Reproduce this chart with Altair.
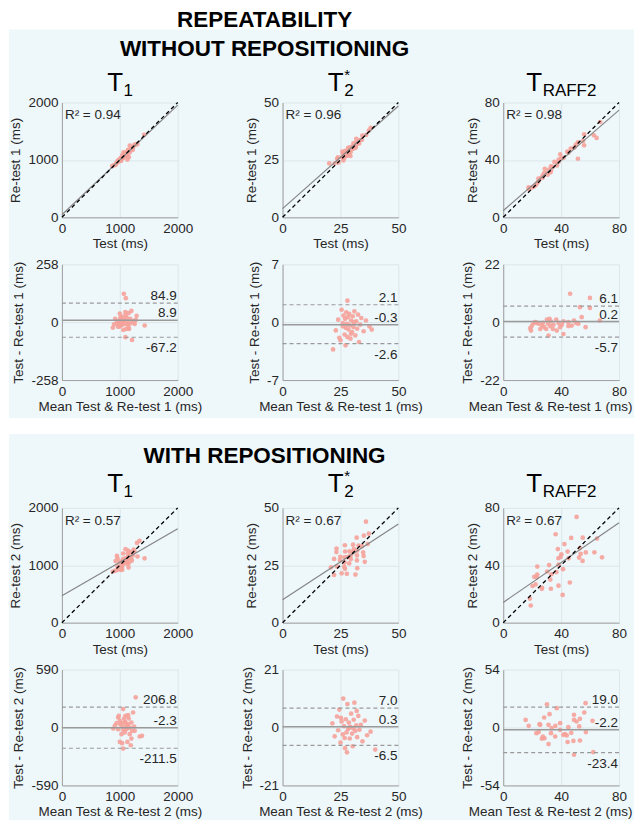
import altair as alt
import pandas as pd

FONT = "Liberation Sans, Arial, sans-serif"
BG = "#eef7fa"
POINT = "#f5a29a"
INK = "#262626"

PW, PH_SC, PH_BA = 116, 115, 116

# ---------------- shared per-parameter settings (T1, T2*, TRAFF2) ----------------
AXIS_MAX = [2000, 50, 80]
AXIS_MID = [1000, 25, 40]
SUBS = ["1", "2", "RAFF2"]
STAR = [False, True, False]

# ---------------- WITHOUT REPOSITIONING (Test vs Re-test 1) ----------------
# Bland-Altman coordinates (mean, difference)
A1_MEAN = [1069, 1103, 1095, 1000, 920, 1150, 1200, 1230, 1290, 1429, 1257, 1130, 1070, 1000,
           900, 880, 970, 1030, 1110, 1060, 1140, 1190, 1275, 1097, 1211, 1010, 1040, 1160,
           960, 1050, 1120, 1080, 990, 1180, 1020, 940, 1100, 1060, 1150, 1005]
A1_DIFF = [126, 107, 45, 38, 15, 40, 50, 5, 28, -15, -8, 0, 10, -5, -10, -25, -20, -15, -30, -2,
           -10, -5, 10, -67, -79, 20, 25, -30, 5, 12, 18, -8, -20, 15, -12, -5, 30, -35, -22, 8]
B1_MEAN = [21.8, 23, 24, 25, 25.5, 26, 26.3, 26.8, 27, 27.2, 27.5, 27.8, 28, 28.2, 28.5, 28.8,
           29, 29.3, 29.6, 30, 30.3, 30.6, 31, 31.4, 31.8, 32.2, 32.6, 33, 33.5, 34, 35, 36,
           37.5, 38.5, 26, 28, 29.5, 30.8, 27.3, 24.5]
B1_DIFF = [-3.3, -1.0, 0.3, -2.2, 1.5, -0.5, 0.8, -1.5, 0.4, -2.8, 1.2, -0.2, -1.8, 0.6, -0.9,
           1.0, -0.4, -2.0, 0.2, -1.2, 0.7, -0.6, 1.3, -1.6, 0.1, -0.8, 0.9, -2.4, -0.3, 0.5,
           -1.1, 0.2, -0.5, -0.9, -0.1, 2.6, -1.4, 0.0, -0.7, -1.9]
C1_MEAN = [46.2, 59.9, 59.9, 53.0, 66.7, 54.2, 48.9, 51.9, 56.9, 45.0, 41.6, 38.2, 36.6, 34.7,
           32.9, 32.0, 30.2, 30.9, 29.7, 28.3, 26.7, 25.6, 24.5, 22.2, 21.0, 19.9, 18.7, 19.2,
           31.3, 41.6, 37.0, 39.3, 45.0, 47.3, 23.3, 34.3, 27.4, 32.5, 40.5, 50.3]
C1_DIFF = [10.8, 9.2, 5.4, 5.7, 0.6, 1.9, 0.6, -0.6, -1.9, 0.0, 0.3, -0.3, 1.0, -1.0, 0.3, 1.3,
           1.0, -0.6, -2.6, -1.9, -1.3, -2.6, -0.6, 0.0, -0.3, -1.3, -2.3, -3.2, -5.1, -4.5,
           -3.2, -1.9, -1.5, -1.3, -0.3, -2.6, -0.3, -1.5, -1.0, -0.3]
BA_MAX_1 = [258, 7, 22]
BIAS_1 = [8.9, -0.3, 0.2]
UPPER_1 = [84.9, 2.1, 6.1]
LOWER_1 = [-67.2, -2.6, -5.7]
R2_1 = ["0.94", "0.96", "0.98"]
REG_START_1 = [45, 3.8, 4.6]
REG_END_1 = [1955, 48.5, 74.7]

# ---------------- WITH REPOSITIONING (Test vs Re-test 2) ----------------
A2_MEAN = [1274, 1057, 1143, 1229, 971, 1000, 943, 1029, 1086, 1143, 1200, 914, 886, 1057, 1114,
           1171, 1246, 1029, 1086, 1171, 1257, 1200, 1343, 1383, 1131, 1189, 1000, 1040, 1057,
           1097, 983, 1074, 1154, 1097, 1211, 1120, 971, 1060, 1130, 1010]
A2_DIFF = [307, 188, 126, 153, 102, 68, 44, 44, 58, 34, 51, 17, -10, 10, -17, 0, 10, -68, -51,
           -68, -34, -113, -92, -85, -147, -181, -147, -160, -215, 51, 119, 92, 92, 119, -34,
           24, -17, -25, -5, 30]
B2_MEAN = [21.5, 22.5, 23.5, 24, 24.5, 25, 25.5, 26, 26.2, 26.5, 27, 27.3, 27.6, 28, 28.3, 28.6,
           29, 29.3, 29.6, 30, 30.3, 30.7, 31, 31.4, 31.8, 32.2, 32.7, 33.2, 33.8, 34.5, 35.5,
           36.5, 38, 40, 26.8, 28.8, 30.5, 25.2, 27.8, 32]
B2_DIFF = [1.5, -3.2, 4.0, -1.0, 6.5, -5.5, 2.2, -2.5, 10.5, 0.5, -7.5, 3.0, -1.8, 8.5, -0.5,
           1.8, -4.0, 0.2, 5.0, -2.2, -6.8, 2.8, 9.0, -1.2, 0.8, -3.5, 4.2, -0.8, 1.0, -5.0,
           2.5, -2.8, -1.5, -8.0, -3.8, 0.0, -0.3, 3.5, -9.0, 6.0]
C2_MEAN = [30.2, 37.0, 32.0, 28.3, 15.5, 17.6, 25.1, 31.3, 39.3, 48.9, 50.7, 53.0, 48.9, 56.0,
           56.9, 61.7, 57.1, 53.0, 48.5, 44.5, 43.9, 42.7, 45.0, 39.3, 35.9, 33.0, 31.3, 27.4,
           26.7, 28.5, 24.5, 22.9, 25.6, 48.9, 62.2, 33.5, 47.0, 52.5, 36.0, 41.5]
C2_DIFF = [21.7, 18.0, 12.4, 9.3, 7.1, 1.6, 3.1, 2.5, 4.0, 11.8, 5.6, 8.1, 7.1, 14.0, 22.7, 6.2,
           -4.3, -12.1, -12.5, -13.5, -7.4, -6.2, 0.3, -2.2, -8.4, -5.3, -15.5, -8.4, -10.5,
           -10.0, -4.3, -5.3, 2.5, -25.4, -23.0, -0.5, -5.0, 1.0, 1.5, -6.8]
BA_MAX_2 = [590, 21, 54]
BIAS_2 = [-2.3, 0.3, -2.2]
UPPER_2 = [206.8, 7.0, 19.0]
LOWER_2 = [-211.5, -6.5, -23.4]
R2_2 = ["0.57", "0.67", "0.67"]
REG_START_2 = [470, 10.0, 14.1]
REG_END_2 = [1635, 43.0, 69.6]

LABEL_EXPR = "replace(datum.label, '\u2212', '-')"


def axis(values, title, **kw):
    return alt.Axis(values=values, title=title, format="d", labelExpr=LABEL_EXPR, **kw)


def text_layer(t, x, y, size, align="center", weight="normal", color="black", baseline="alphabetic"):
    return alt.Chart(pd.DataFrame({"t": [t]})).mark_text(
        align=align, baseline=baseline, font=FONT, fontSize=size, fontWeight=weight, color=color
    ).encode(x=alt.value(x), y=alt.value(y), text="t:N")


def bg_rect(y0, y1):
    return alt.Chart(pd.DataFrame({"a": [0]})).mark_rect(color=BG).encode(
        x=alt.value(-53), x2=alt.value(573), y=alt.value(y0), y2=alt.value(y1))


def t_title(i, ybase):
    sub = SUBS[i]
    w_t = 0.611 * 26
    w_s = {"1": 0.556, "2": 0.556, "RAFF2": 3.167}[sub] * 17
    xr = PW / 2 + (w_t - w_s) / 2
    layers = [text_layer("T", xr, ybase, 26, "right"),
              text_layer(sub, xr + 0.5, ybase + 5.5, 17, "left")]
    if STAR[i]:
        layers.append(text_layer("*", xr + 0.5, ybase - 11, 15, "left"))
    return layers


def scatter(i, means, diffs, r0, r1, r2, n):
    vmax, vmid = AXIS_MAX[i], AXIS_MID[i]
    ticks = [0, vmid, vmax]
    sc = alt.Scale(domain=[0, vmax], nice=False, zero=False)
    ax_x = axis(ticks, "Test (ms)")
    ax_y = axis(ticks, f"Re-test {n} (ms)")

    def X(f):
        return alt.X(f, type="quantitative", scale=sc, axis=ax_x)

    def Y(f):
        return alt.Y(f, type="quantitative", scale=sc, axis=ax_y)

    pts = alt.Chart(pd.DataFrame({"m": means, "d": diffs})).transform_calculate(
        test="datum.m + datum.d / 2", retest="datum.m - datum.d / 2"
    ).mark_circle(size=22, color=POINT, opacity=0.9).encode(x=X("test"), y=Y("retest"))
    reg = alt.Chart(pd.DataFrame({"x": [0, vmax], "y": [r0, r1]})).mark_line(
        color="#858585", strokeWidth=1.2).encode(x=X("x"), y=Y("y"))
    ident = alt.Chart(pd.DataFrame({"x": [0, vmax], "y": [0, vmax]})).mark_line(
        color="black", strokeWidth=1.3, strokeDash=[4, 3]).encode(x=X("x"), y=Y("y"))
    txt = text_layer(f"R\u00b2 = {r2}", 3, 17, 13.5, "left", color=INK)
    return alt.layer(pts, reg, ident, txt).properties(width=PW, height=PH_SC)


def bland_altman(i, means, diffs, bamax, bias, up, lo, n):
    vmax, vmid = AXIS_MAX[i], AXIS_MID[i]
    sx = alt.Scale(domain=[0, vmax], nice=False, zero=False)
    sy = alt.Scale(domain=[-bamax, bamax], nice=False, zero=False)
    extra = {"titleX": 47} if i == 2 else {}
    ax_x = axis([0, vmid, vmax], f"Mean Test & Re-test {n} (ms)", **extra)
    ax_y = axis([-bamax, 0, bamax], f"Test - Re-test {n} (ms)")

    def X(f):
        return alt.X(f, type="quantitative", scale=sx, axis=ax_x)

    def Y(f):
        return alt.Y(f, type="quantitative", scale=sy, axis=ax_y)

    pts = alt.Chart(pd.DataFrame({"m": means, "d": diffs})).mark_circle(
        size=22, color=POINT, opacity=0.9).encode(x=X("m"), y=Y("d"))
    loa = alt.Chart(pd.DataFrame({"y": [up, lo]})).mark_rule(
        color="#9a9a9a", strokeWidth=1.2, strokeDash=[4, 3]).encode(y=Y("y"))
    mean_line = alt.Chart(pd.DataFrame({"y": [bias]})).mark_rule(
        color="#9a9a9a", strokeWidth=1.5).encode(y=Y("y"))
    above = alt.Chart(pd.DataFrame({"y": [up, bias], "t": [f"{up:.1f}", f"{bias:.1f}"]})).mark_text(
        align="right", baseline="alphabetic", dy=-3, font=FONT, fontSize=13.5, color=INK
    ).encode(x=alt.value(PW - 1), y=Y("y"), text="t:N")
    below = alt.Chart(pd.DataFrame({"y": [lo], "t": [f"{lo:.1f}"]})).mark_text(
        align="right", baseline="top", dy=4, font=FONT, fontSize=13.5, color=INK
    ).encode(x=alt.value(PW - 1), y=Y("y"), text="t:N")
    return alt.layer(pts, mean_line, loa, above, below).properties(width=PW, height=PH_BA)


# ---------------- assemble grid ----------------
cells = []
# header, section 1
cells.append(alt.layer(
    bg_rect(20, 409),
    text_layer("REPEATABILITY", 203, 17, 22.5, weight="bold"),
    text_layer("WITHOUT REPOSITIONING", 203, 46, 22.5, weight="bold"),
    *t_title(0, 81)).properties(width=PW, height=46))
for i in (1, 2):
    cells.append(alt.layer(*t_title(i, 81)).properties(width=PW, height=46))

sec1 = [(A1_MEAN, A1_DIFF), (B1_MEAN, B1_DIFF), (C1_MEAN, C1_DIFF)]
for i, (m, d) in enumerate(sec1):
    cells.append(scatter(i, m, d, REG_START_1[i], REG_END_1[i], R2_1[i], 1))
for i, (m, d) in enumerate(sec1):
    cells.append(bland_altman(i, m, d, BA_MAX_1[i], BIAS_1[i], UPPER_1[i], LOWER_1[i], 1))

# header, section 2
cells.append(alt.layer(
    bg_rect(7, 394),
    text_layer("WITH REPOSITIONING", 203, 36, 22.5, weight="bold"),
    *t_title(0, 65)).properties(width=PW, height=34))
for i in (1, 2):
    cells.append(alt.layer(*t_title(i, 65)).properties(width=PW, height=34))

sec2 = [(A2_MEAN, A2_DIFF), (B2_MEAN, B2_DIFF), (C2_MEAN, C2_DIFF)]
for i, (m, d) in enumerate(sec2):
    cells.append(scatter(i, m, d, REG_START_2[i], REG_END_2[i], R2_2[i], 2))
for i, (m, d) in enumerate(sec2):
    cells.append(bland_altman(i, m, d, BA_MAX_2[i], BIAS_2[i], UPPER_2[i], LOWER_2[i], 2))

chart = alt.ConcatChart(
    concat=cells, columns=3,
    spacing=alt.RowColnumber(row=47, column=105),
    bounds="flush", padding=0, background="white",
).configure_view(stroke=None).configure_axis(
    labelFont=FONT, labelFontSize=13.5, labelColor=INK,
    titleFont=FONT, titleFontSize=13.5, titleFontWeight="normal", titleColor=INK,
    domainColor="#a0a0a0", domainWidth=1, gridColor="#dbe7eb", gridWidth=1,
    ticks=False, labelFlush=False, labelOverlap=False,
).configure_axisX(labelPadding=4, titlePadding=2).configure_axisY(labelPadding=4, titlePadding=5)

chart.save("out.html", embed_options={"renderer": "svg", "actions": False})
